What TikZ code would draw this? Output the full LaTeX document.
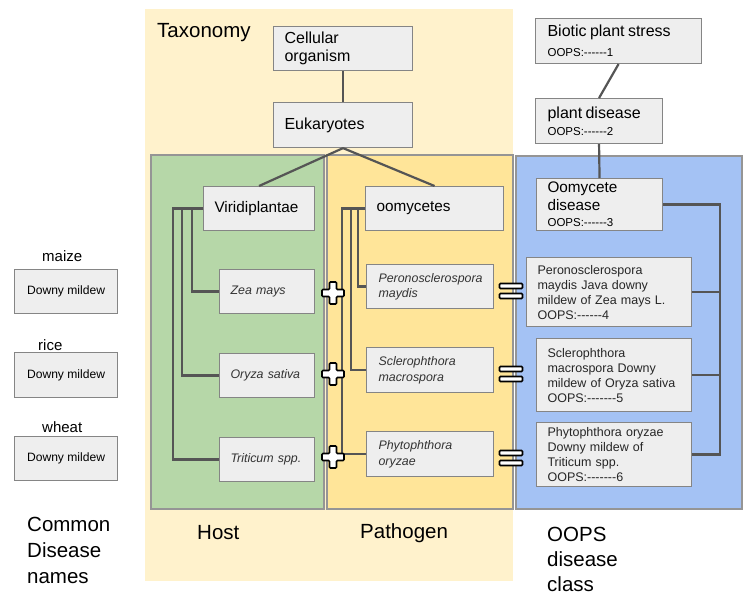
\documentclass[tikz,border=0pt]{standalone}
\usepackage{fontspec}
\setmainfont{Liberation Sans}[Ligatures=TeXOff]
\setlength\parindent{0pt}

\definecolor{taxbg}{HTML}{FFF2CC}
\definecolor{hostbg}{HTML}{B6D7A8}
\definecolor{pathbg}{HTML}{FFE599}
\definecolor{oopsbg}{HTML}{A4C2F4}
\definecolor{boxfill}{HTML}{EEEEEE}
\definecolor{boxline}{HTML}{858585}
\definecolor{panelline}{HTML}{959595}
\definecolor{linkcol}{HTML}{555555}
\definecolor{spcol}{HTML}{333333}

\newcommand\fs[2]{\fontsize{#1}{#2}\selectfont}

\tikzset{
  box/.style={draw=boxline, line width=1.1pt, fill=boxfill, rectangle,
    anchor=north west, inner xsep=11pt, inner ysep=0pt, align=left},
  link/.style={draw=linkcol, line width=2.2pt},
  panel/.style={draw=panelline, line width=1.2pt},
  heading/.style={font=\fs{20.5}{26}, anchor=west, align=left, inner sep=0pt},
  sign/.style={draw=black, line width=1.7pt, fill=white, rounded corners=1pt},
  species/.style={font=\fs{12.4}{15.5}\itshape, text=spcol},
  oops/.style={font=\fs{12.5}{15}, text=black!85},
}

\begin{document}
\begin{tikzpicture}[x=1pt, y=-1pt]
\useasboundingbox (0,0) rectangle (747,594);

% column panels
\fill[taxbg] (145,9) rectangle (513,581);
\draw[panel, fill=hostbg] (151,155) rectangle (324,509);
\draw[panel, fill=pathbg] (327,155) rectangle (513,509);
\draw[panel, fill=oopsbg] (516,156) rectangle (742,509);

% taxonomy boxes
\node[box, minimum width=139, minimum height=44, text width=117, font=\fs{16}{18}]
  (cell) at (273,26) {Cellular\\organism};
\node[box, minimum width=139, minimum height=45, text width=117, font=\fs{16}{18}]
  (euk) at (273,102) {Eukaryotes};

% host
\node[box, minimum width=111, minimum height=44, text width=89, font=\fs{15.3}{18}]
  (viri) at (203,186) {Viridiplantae};
\node[box, species, minimum width=95, minimum height=44, text width=73]
  (zea) at (219,269) {Zea mays};
\node[box, species, minimum width=95, minimum height=44, text width=73]
  (oryza) at (219,353) {Oryza sativa};
\node[box, species, minimum width=95, minimum height=44, text width=73]
  (trit) at (219,437) {Triticum spp.};

% pathogen
\node[box, minimum width=138, minimum height=44, text width=116, font=\fs{15.3}{18}]
  (oomy) at (365,186) {oomycetes};
\node[box, species, minimum width=127, minimum height=44, text width=103, inner xsep=12pt]
  (pero) at (366,264) {Peronosclerospora\\maydis};
\node[box, species, minimum width=127, minimum height=45, text width=103, inner xsep=12pt]
  (scler) at (366,347) {Sclerophthora\\macrospora};
\node[box, species, minimum width=127, minimum height=45, text width=103, inner xsep=12pt]
  (phyto) at (366,431) {Phytophthora\\oryzae};

% OOPS classes
\node[box, minimum width=166, minimum height=45, text width=142, inner xsep=12pt]
  (bio) at (535,18) {\fs{16}{18}Biotic plant stress\par\fs{11.5}{20}OOPS:------1\par};
\node[box, minimum width=127, minimum height=45, text width=103, inner xsep=12pt]
  (pd) at (535,98) {\fs{16}{18}plant disease\par\fs{11.5}{17.5}OOPS:------2\par};
\node[box, minimum width=126, minimum height=52, text width=104]
  (oomd) at (536,178) {\fs{15.3}{18}Oomycete\\disease\par\fs{11.5}{16}OOPS:------3\par};
\node[box, oops, minimum width=165, minimum height=69, text width=143]
  (pero2) at (526,257) {Peronosclerospora\\maydis Java downy\\mildew of Zea mays L.\\OOPS:------4};
\node[box, oops, minimum width=155, minimum height=73, text width=133]
  (scler2) at (536,338) {Sclerophthora\\macrospora Downy\\mildew of Oryza sativa\\OOPS:-------5};
\node[box, oops, minimum width=155, minimum height=64, text width=133]
  (phyto2) at (536,422) {Phytophthora oryzae\\Downy mildew of\\Triticum spp.\\OOPS:-------6};

% common names
\node[box, minimum width=103, minimum height=44, inner xsep=0pt, align=center, font=\fs{12.1}{14}]
  (dm1) at (14,269) {Downy mildew};
\node[box, minimum width=103, minimum height=45, inner xsep=0pt, align=center, font=\fs{12.1}{14}]
  (dm2) at (14,352) {Downy mildew};
\node[box, minimum width=103, minimum height=44, inner xsep=0pt, align=center, font=\fs{12.1}{14}]
  (dm3) at (14,436) {Downy mildew};
\node[anchor=west, inner sep=0pt, font=\fs{15}{18}] (maize) at (42,256) {maize};
\node[anchor=west, inner sep=0pt, font=\fs{15}{18}] (rice) at (38,345) {rice};
\node[anchor=west, inner sep=0pt, font=\fs{15}{18}] (wheat) at (42,427) {wheat};

% headings
\node[heading] (taxo) at (157,33) {Taxonomy};
\node[heading] (host) at (197,533) {Host};
\node[heading] (path) at (360,533) {Pathogen};
\node[heading, font=\fs{20.5}{25}] (oopscl) at (547,559) {OOPS\\disease\\class};
\node[heading, font=\fs{20.5}{26}] (common) at (27,550) {Common\\Disease\\names};

% connectors
\draw[link] (cell.south) -- (euk.north);
\draw[link] (euk.south) -- (viri.north);
\draw[link] (euk.south) -- (oomy.north);
\draw[link] (bio.south) -- (pd.north);
\draw[link] (pd.south) -- (oomd.north);

\draw[link] (viri.west) -- ++(-11,0) |- (zea.west);
\draw[link] (viri.west) -- ++(-21,0) |- (oryza.west);
\draw[link] (viri.west) -- ++(-30,0) |- (trit.west);

\draw[link] (oomy.west) -- ++(-7,0) |- (pero.west);
\draw[link] (oomy.west) -- ++(-14,0) |- (scler.west);
\draw[link] (oomy.west) -- ++(-23,0) |- (phyto.west);

\draw[link] (oomd.east) -- ++(57,0) |- (pero2.east);
\draw[link] (oomd.east) -- ++(57,0) |- (scler2.east);
\draw[link] (oomd.east) -- ++(57,0) |- (phyto2.east);

% plus signs between host and pathogen
\foreach \yy in {293,374,457}{
  \draw[sign, shift={(333,\yy)}] (-11,-3.5) -- (-3.5,-3.5) -- (-3.5,-11) -- (3.5,-11)
    -- (3.5,-3.5) -- (11,-3.5) -- (11,3.5) -- (3.5,3.5) -- (3.5,11) -- (-3.5,11)
    -- (-3.5,3.5) -- (-11,3.5) -- cycle;
}
% equals signs between pathogen and disease class
\foreach \yy in {291,374,458}{
  \draw[sign, shift={(511,\yy)}] (-11.5,-7.5) rectangle (11.5,-2.5);
  \draw[sign, shift={(511,\yy)}] (-11.5,2.5) rectangle (11.5,7.5);
}
\end{tikzpicture}
\end{document}
